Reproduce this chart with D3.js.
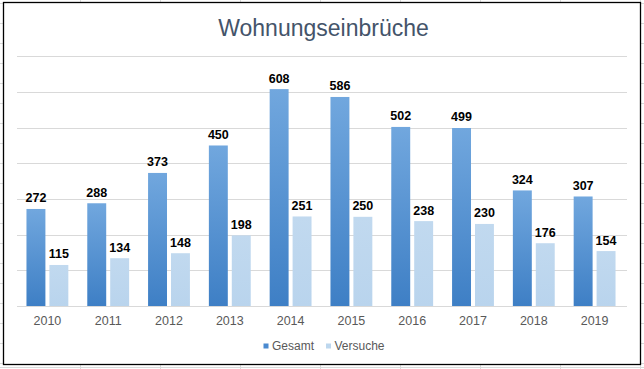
<!DOCTYPE html>
<html><head><meta charset="utf-8">
<script src="https://cdn.jsdelivr.net/npm/d3@7/dist/d3.min.js"></script>
<style>body{margin:0;background:#fff;}svg{display:block;font-family:"Liberation Sans",Arial,sans-serif;}</style>
</head><body>
<script>
const years = ["2010","2011","2012","2013","2014","2015","2016","2017","2018","2019"];
const gesamt = [272,288,373,450,608,586,502,499,324,307];
const versuche = [115,134,148,198,251,250,238,230,176,154];
const seriesNames = ["Gesamt","Versuche"];
const yTicks = [0,100,200,300,400,500,600,700];

const W=644,H=369;
const svg=d3.select("body").append("svg").attr("width",W).attr("height",H);

// spreadsheet background grid
const bg=svg.append("g").attr("stroke","#dadada").attr("stroke-width",1);
for(let x=80;x<W;x+=80){bg.append("line").attr("x1",x+0.5).attr("x2",x+0.5).attr("y1",0).attr("y2",H);}
for(let y=3;y<H;y+=20){bg.append("line").attr("x1",0).attr("x2",W).attr("y1",y+0.5).attr("y2",y+0.5);}
bg.append("line").attr("x1",0).attr("x2",W).attr("y1",367.5).attr("y2",367.5);
svg.append("rect").attr("x",3.5).attr("y",2.5).attr("width",637).attr("height",362)
  .attr("fill","#fff").attr("stroke","#000").attr("stroke-width",1.3);

const defs=svg.append("defs");
const g1=defs.append("linearGradient").attr("id","gG").attr("x1",0).attr("y1",0).attr("x2",0).attr("y2",1);
g1.append("stop").attr("offset","0%").attr("stop-color","#71a7de");
g1.append("stop").attr("offset","100%").attr("stop-color","#3e7fc5");
const g2=defs.append("linearGradient").attr("id","gV").attr("x1",0).attr("y1",0).attr("x2",0).attr("y2",1);
g2.append("stop").attr("offset","0%").attr("stop-color","#c1d9ef");
g2.append("stop").attr("offset","100%").attr("stop-color","#b9d4ed");
const fills={Gesamt:"url(#gG)",Versuche:"url(#gV)"};

const x0=d3.scaleBand().domain(years).range([17,625]);
const x1=d3.scaleBand().domain(seriesNames).range([0,x0.bandwidth()]).paddingInner(0.174).paddingOuter(0.413);
const y=d3.scaleLinear().domain([0,700]).range([306,56.3]);

// gridlines
svg.append("g").selectAll("line").data(yTicks).join("line")
  .attr("x1",17).attr("x2",627).attr("y1",d=>Math.round(y(d))+0.5).attr("y2",d=>Math.round(y(d))+0.5)
  .attr("stroke","#d9d9d9").attr("stroke-width",1);

const data=years.map((yr,i)=>({year:yr,vals:[{s:"Gesamt",v:gesamt[i]},{s:"Versuche",v:versuche[i]}]}));
const grp=svg.append("g").selectAll("g").data(data).join("g").attr("transform",d=>`translate(${x0(d.year)},0)`);
grp.selectAll("rect").data(d=>d.vals).join("rect")
  .attr("x",d=>x1(d.s)).attr("width",x1.bandwidth())
  .attr("y",d=>y(d.v)).attr("height",d=>y(0)-y(d.v)).attr("fill",d=>fills[d.s]);
grp.selectAll("text").data(d=>d.vals).join("text")
  .attr("x",d=>x1(d.s)+x1.bandwidth()/2).attr("y",d=>y(d.v)-6.5)
  .attr("text-anchor","middle").attr("font-size",12.5).attr("font-weight","bold").attr("fill","#000")
  .text(d=>d.v);

// x axis
const xa=svg.append("g").attr("transform","translate(0,306)").call(d3.axisBottom(x0).tickSize(0).tickPadding(10));
xa.select(".domain").attr("stroke","#d9d9d9");
xa.selectAll("text").attr("font-size",12.5).attr("fill","#595959").attr("font-family","Liberation Sans, Arial, sans-serif");

// title
svg.append("text").attr("x",323.5).attr("y",35.5).attr("text-anchor","middle")
  .attr("font-size",23).attr("fill","#44546a").text("Wohnungseinbrüche");

// legend
const leg=[{s:"Gesamt",x:263.5,c:"#4a8ad0"},{s:"Versuche",x:326,c:"#bdd7ee"}];
const lg=svg.append("g").selectAll("g").data(leg).join("g");
lg.append("rect").attr("x",d=>d.x).attr("y",343.5).attr("width",5).attr("height",5).attr("fill",d=>d.c);
lg.append("text").attr("x",d=>d.x+8.5).attr("y",350.3).attr("font-size",12).attr("fill","#595959").text(d=>d.s);
</script>
</body></html>
